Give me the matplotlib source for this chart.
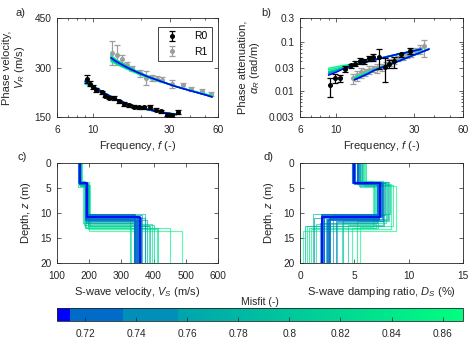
import matplotlib
matplotlib.use("Agg")
import matplotlib.pyplot as plt
from matplotlib.colors import LinearSegmentedColormap, Normalize
from matplotlib.cm import ScalarMappable
from matplotlib.ticker import NullFormatter, LogLocator

plt.rcParams['font.family'] = ['Liberation Sans', 'DejaVu Sans']
plt.rcParams['mathtext.fontset'] = 'custom'
plt.rcParams['mathtext.rm'] = 'Liberation Sans'
plt.rcParams['mathtext.it'] = 'Liberation Sans:italic'

# ---------------- experimental data ----------------
# fundamental mode (R0) phase velocity
f_v0 = [9.17, 9.6, 10.0, 10.5, 11.4, 11.9, 12.6, 13.6, 14.6, 15.6, 16.7, 18.0,
        19.3, 20.7, 22.7, 24.6, 26.7, 29.0, 31.1, 34.1]
v0 = [266, 251, 241, 233, 225, 215, 209, 207, 197, 189, 185, 181,
      179, 179, 179, 172, 167, 157, 155, 165]
v0_err = [12, 8, 7, 6, 5, 5, 5, 6, 5, 5, 5, 4, 4, 5, 6, 4, 4, 5, 4, 7]

# first higher mode (R1) phase velocity
f_v1 = [13.1, 14.1, 15.2, 16.3, 17.6, 19.8, 21.5, 23.4, 25.0, 26.8, 31.2,
        36.6, 41.0, 48.0, 54.5]
v1 = [345, 337, 327, 307, 297, 282, 268, 268, 266, 263, 251, 246, 234, 228, 219]
v1_err = [36, 30, 12, 10, 8, 10, 20, 8, 8, 8, 12, 8, 6, 6, 6]

# fundamental mode (R0) phase attenuation
f_a0 = [9.2, 9.85, 10.6, 11.4, 12.3, 13.1, 14.0, 14.9, 15.8, 16.8, 18.2,
        19.8, 21.2, 22.7, 25.0, 28.2]
a0 = [0.013, 0.0185, 0.018, 0.028, 0.033, 0.036, 0.041, 0.040, 0.046, 0.048,
      0.050, 0.031, 0.036, 0.040, 0.055, 0.066]
a0_err = [0.0055, 0.004, 0.003, 0.004, 0.003, 0.004, 0.006, 0.004, 0.005,
          0.008, 0.022, 0.016, 0.007, 0.01, 0.005, 0.009]

# first higher mode (R1) phase attenuation
f_a1 = [12.6, 13.4, 14.2, 15.0, 15.9, 16.9, 17.9, 19.0, 20.2, 21.4, 22.7,
        24.1, 25.6, 27.2, 28.9, 30.7, 32.6, 34.6]
a1 = [0.018, 0.021, 0.024, 0.024, 0.027, 0.028, 0.029, 0.031, 0.034, 0.038,
      0.042, 0.046, 0.050, 0.055, 0.060, 0.066, 0.072, 0.080]
a1_err = [0.004, 0.005, 0.006, 0.004, 0.005, 0.004, 0.006, 0.005, 0.005,
          0.006, 0.007, 0.006, 0.007, 0.008, 0.01, 0.01, 0.015, 0.03]

# ---------------- inverted profiles ----------------
misfit = [0.866, 0.861, 0.855, 0.848, 0.842, 0.836, 0.829, 0.821, 0.814,
          0.806, 0.799, 0.791, 0.783, 0.776, 0.768, 0.761, 0.755, 0.749,
          0.744, 0.739, 0.733, 0.728, 0.724, 0.720, 0.716, 0.710]
z1 = [4.6, 3.6, 4.2, 3.8, 4.4, 3.9, 4.7, 3.7, 4.1, 4.0, 3.5, 4.3, 3.9,
      4.5, 4.0, 3.8, 4.1, 3.9, 4.2, 4.0, 3.9, 4.1, 4.0, 3.9, 4.0, 3.95]
z2 = [13.5, 12.8, 13.2, 13.0, 12.5, 11.9, 12.2, 11.6, 12.9, 11.2, 12.4,
      10.2, 11.8, 12.6, 10.6, 11.4, 12.0, 10.4, 11.1, 10.9, 11.5, 10.3,
      11.0, 10.7, 11.3, 10.8]
vs1 = [175, 166, 172, 168, 177, 170, 164, 173, 169, 176, 171, 167, 174,
       170, 168, 172, 169, 171, 170, 168, 172, 170, 169, 171, 170, 170]
vs2 = [200, 186, 197, 190, 203, 182, 195, 199, 188, 193, 184, 198, 191,
       196, 187, 194, 190, 192, 189, 195, 191, 193, 190, 192, 191, 192]
vs3 = [487, 330, 410, 451, 385, 340, 395, 360, 415, 328, 400, 372, 345,
       390, 352, 380, 338, 365, 348, 372, 355, 342, 362, 350, 346, 358]
ds1 = [6.0, 4.8, 5.7, 5.2, 5.9, 4.9, 5.5, 6.1, 5.0, 5.8, 5.3, 5.6, 4.75,
       5.4, 5.1, 5.7, 5.0, 5.5, 5.2, 5.4, 5.0, 5.3, 4.9, 5.1, 5.0, 5.0]
ds2 = [8.8, 6.7, 8.4, 7.0, 8.6, 7.9, 6.9, 8.2, 7.2, 8.0, 7.6, 8.3, 6.8,
       7.7, 7.4, 8.1, 7.1, 7.8, 7.5, 7.3, 7.6, 7.4, 7.2, 7.5, 7.3, 7.4]
ds3 = [0.3, 5.5, 1.0, 4.8, 0.6, 3.9, 1.5, 5.2, 0.8, 2.7, 4.4, 1.2, 3.4,
       0.5, 2.2, 4.0, 1.8, 3.0, 2.4, 1.3, 3.3, 2.0, 2.8, 2.2, 2.6, 2.0]
z_max = 20

# ---------------- theoretical curves of selected profiles ----------------
curve_misfit = [0.866, 0.842, 0.800, 0.785, 0.770, 0.755, 0.740, 0.710]
f_c0 = [9, 10, 11, 12.5, 14, 16, 18.5, 21, 24, 28, 33]
f_c1 = [13, 14, 15.5, 17, 19, 21.5, 24.5, 28, 32, 37, 43, 50, 55]
f_c1a = [13, 14, 15.5, 17, 19, 21.5, 24.5, 28, 32, 37]
vr0_curves = [
    [250, 238, 227, 214, 203, 192, 183, 176, 170, 164, 159],
    [262, 246, 233, 217, 204, 192, 181, 174, 168, 162, 157],
    [254, 240, 229, 215, 203, 192, 182, 175, 169, 163, 158],
    [260, 245, 232, 216, 204, 191, 181, 174, 168, 163, 158],
    [256, 242, 230, 216, 204, 192, 182, 175, 169, 163, 158],
    [259, 244, 231, 216, 203, 191, 181, 174, 168, 162, 157],
    [257, 243, 231, 216, 204, 192, 182, 175, 169, 163, 158],
    [258, 243, 231, 216, 204, 192, 182, 175, 169, 163, 158],
]
vr1_curves = [
    [318, 310, 300, 291, 281, 271, 262, 253, 244, 236, 228, 220, 215],
    [336, 324, 311, 300, 288, 276, 265, 255, 245, 236, 227, 218, 212],
    [322, 313, 302, 293, 283, 272, 263, 253, 244, 235, 227, 219, 213],
    [332, 321, 309, 298, 287, 275, 265, 254, 245, 235, 226, 217, 211],
    [326, 316, 305, 295, 285, 274, 264, 254, 244, 235, 226, 218, 212],
    [330, 319, 307, 297, 286, 275, 264, 254, 244, 235, 226, 217, 211],
    [328, 318, 306, 296, 285, 274, 264, 254, 244, 235, 226, 217, 211],
    [329, 318, 306, 296, 285, 274, 264, 254, 244, 235, 226, 217, 211],
]
ar0_curves = [
    [0.029, 0.031, 0.033, 0.035, 0.038, 0.042, 0.046, 0.050, 0.055, 0.061, 0.068],
    [0.027, 0.029, 0.031, 0.034, 0.037, 0.041, 0.046, 0.050, 0.055, 0.061, 0.068],
    [0.025, 0.027, 0.030, 0.033, 0.037, 0.041, 0.046, 0.050, 0.055, 0.061, 0.069],
    [0.024, 0.026, 0.029, 0.033, 0.036, 0.041, 0.046, 0.051, 0.056, 0.062, 0.070],
    [0.023, 0.026, 0.029, 0.032, 0.036, 0.041, 0.046, 0.051, 0.056, 0.062, 0.070],
    [0.022, 0.025, 0.028, 0.032, 0.036, 0.041, 0.046, 0.051, 0.056, 0.062, 0.070],
    [0.022, 0.025, 0.028, 0.032, 0.036, 0.040, 0.045, 0.050, 0.056, 0.062, 0.070],
    [0.021, 0.024, 0.028, 0.032, 0.036, 0.040, 0.045, 0.050, 0.056, 0.062, 0.070],
]
ar1_curves = [
    [0.019, 0.021, 0.024, 0.027, 0.031, 0.036, 0.042, 0.050, 0.059, 0.071],
    [0.018, 0.020, 0.023, 0.026, 0.030, 0.035, 0.041, 0.049, 0.058, 0.071],
    [0.017, 0.019, 0.022, 0.026, 0.030, 0.035, 0.041, 0.049, 0.058, 0.070],
    [0.018, 0.020, 0.023, 0.027, 0.031, 0.036, 0.042, 0.050, 0.059, 0.072],
    [0.017, 0.019, 0.022, 0.026, 0.030, 0.035, 0.041, 0.049, 0.058, 0.070],
    [0.017, 0.019, 0.022, 0.026, 0.030, 0.035, 0.041, 0.049, 0.058, 0.070],
    [0.017, 0.019, 0.022, 0.026, 0.030, 0.035, 0.041, 0.049, 0.058, 0.070],
    [0.017, 0.019, 0.022, 0.026, 0.030, 0.035, 0.041, 0.049, 0.058, 0.070],
]

cb_ticks = [0.72, 0.74, 0.76, 0.78, 0.80, 0.82, 0.84, 0.86]
cb_labels = ['0.72', '0.74', '0.76', '0.78', '0.8', '0.82', '0.84', '0.86']

# ---------------- colour map (banded winter) ----------------
m_lo, m_hi = 0.709, 0.868
def _p(m):
    return (m - m_lo) / (m_hi - m_lo)
w = lambda t: (0.0, t, 1 - 0.5 * t)
cmap = LinearSegmentedColormap.from_list('misfit', [
    (0.0, w(0.0)), (_p(0.7141), w(0.0)),
    (_p(0.7142), w(0.42)), (_p(0.7346), w(0.42)),
    (_p(0.7347), w(0.56)), (_p(0.7561), w(0.56)),
    (_p(0.7562), w(0.64)), (1.0, w(1.0)),
], N=512)
norm = Normalize(m_lo, m_hi)

W, H = 474, 343
fig = plt.figure(figsize=(W / 100, H / 100), dpi=100)

def px_axes(x0, y0, x1, y1):
    return fig.add_axes([x0 / W, 1 - y1 / H, (x1 - x0) / W, (y1 - y0) / H])

ax_a = px_axes(57, 18, 218, 117)
ax_b = px_axes(300, 18, 463, 117)
ax_c = px_axes(57, 163, 218, 263)
ax_d = px_axes(300, 163, 463, 263)
cax = px_axes(57, 308, 463, 321)

INK = '0.15'
TS = 7.3
LS = 8

def style(ax):
    for s in ax.spines.values():
        s.set_color(INK)
        s.set_linewidth(0.6)
    ax.tick_params(which='both', direction='in', top=True, right=True,
                   colors=INK, labelsize=TS, width=0.5)
    ax.tick_params(which='major', length=2.8)
    ax.tick_params(which='minor', length=1.6)
    ax.tick_params(axis='x', pad=5.5)
    ax.tick_params(axis='y', pad=4)

order = sorted(range(len(curve_misfit)), key=lambda i: -curve_misfit[i])

# ---- a) phase velocity ----
ax = ax_a
for i in order:
    c = cmap(norm(curve_misfit[i]))
    ax.plot(f_c0, vr0_curves[i], color=c, lw=1.0, zorder=2)
    ax.plot(f_c1, vr1_curves[i], color=c, lw=1.0, zorder=2)
eb_kw = dict(fmt='o', ms=2.6, capsize=2.4, elinewidth=0.9, capthick=0.9)
h0 = ax.errorbar(f_v0, v0, yerr=v0_err, color='black', zorder=3, **eb_kw)
h1 = ax.errorbar(f_v1, v1, yerr=v1_err, color='0.62', zorder=1, **eb_kw)
ax.set_xscale('log')
ax.set_xlim(6, 60)
ax.set_ylim(150, 450)
ax.set_xticks([6, 10, 30, 60], ['6', '10', '30', '60'])
ax.xaxis.set_minor_formatter(NullFormatter())
ax.set_yticks([150, 300, 450])
ax.set_xlabel('Frequency, $f$ (-)', fontsize=LS, color=INK, labelpad=3)
ax.set_ylabel('Phase velocity,\n$V_R$ (m/s)', fontsize=LS, color=INK,
              labelpad=5, linespacing=1.1)
style(ax)
leg = ax.legend([h0, h1], ['R0', 'R1'], loc='upper right',
                bbox_to_anchor=(0.961, 0.912), borderaxespad=0,
                fontsize=7.5, fancybox=False, framealpha=1,
                edgecolor=INK, handlelength=1.8, handletextpad=1.2,
                borderpad=0.45, labelspacing=0.5)
leg.get_frame().set_linewidth(0.6)

# ---- b) phase attenuation ----
ax = ax_b
ax.errorbar(f_a1, a1, yerr=a1_err, color='0.62', zorder=1, **eb_kw)
for i in order:
    c = cmap(norm(curve_misfit[i]))
    ax.plot(f_c0, ar0_curves[i], color=c, lw=1.0, zorder=2)
    ax.plot(f_c1a, ar1_curves[i], color=c, lw=1.0, zorder=2)
ax.errorbar(f_a0, a0, yerr=a0_err, color='black', zorder=3, **eb_kw)
ax.set_xscale('log')
ax.set_yscale('log')
ax.set_xlim(6, 60)
ax.set_ylim(0.003, 0.3)
ax.set_xticks([6, 10, 30, 60], ['6', '10', '30', '60'])
ax.xaxis.set_minor_formatter(NullFormatter())
ax.set_yticks([0.003, 0.01, 0.03, 0.1, 0.3], ['0.003', '0.01', '0.03', '0.1', '0.3'])
ax.yaxis.set_minor_locator(LogLocator(subs=range(2, 10)))
ax.yaxis.set_minor_formatter(NullFormatter())
ax.set_xlabel('Frequency, $f$ (-)', fontsize=LS, color=INK, labelpad=3)
ax.set_ylabel('Phase attenuation,\n$\\alpha_R$ (rad/m)', fontsize=LS, color=INK,
              labelpad=5, linespacing=1.1)
style(ax)

# ---- c) and d) profiles ----
prof_order = sorted(range(len(misfit)), key=lambda i: -misfit[i])
for i in prof_order:
    c = cmap(norm(misfit[i]))
    zz = [0, z1[i], z1[i], z2[i], z2[i], z_max]
    best = misfit[i] < 0.73
    lw = 1.3 if best else 0.8
    al = 0.95 if best else 0.65
    ax_c.plot([vs1[i], vs1[i], vs2[i], vs2[i], vs3[i], vs3[i]], zz,
              color=c, lw=lw, alpha=al)
    ax_d.plot([ds1[i], ds1[i], ds2[i], ds2[i], ds3[i], ds3[i]], zz,
              color=c, lw=lw, alpha=al)

ax_c.set_xlim(100, 600)
ax_c.set_xticks([100, 200, 300, 400, 500, 600])
ax_c.set_xlabel('S-wave velocity, $V_S$ (m/s)', fontsize=LS, color=INK, labelpad=3)
ax_d.set_xlim(0, 15)
ax_d.set_xticks([0, 5, 10, 15])
ax_d.set_xlabel('S-wave damping ratio, $D_S$ (%)', fontsize=LS, color=INK, labelpad=3)
for ax in (ax_c, ax_d):
    ax.set_ylim(20, 0)
    ax.set_yticks([0, 5, 10, 15, 20])
    ax.set_ylabel('Depth, $z$ (m)', fontsize=LS, color=INK, labelpad=5)
    style(ax)

# ---- colour bar ----
cb = fig.colorbar(ScalarMappable(norm=norm, cmap=cmap), cax=cax,
                  orientation='horizontal')
cb.set_ticks(cb_ticks, labels=cb_labels)
cb.outline.set_edgecolor(INK)
cb.outline.set_linewidth(0.6)
cax.tick_params(direction='in', length=2.8, width=0.5, colors=INK,
                labelsize=TS, pad=6)
cax.set_title('Misfit (-)', fontsize=7.5, color=INK, pad=2.5)

# ---- panel letters ----
for txt, (x, y) in {'a)': (21, 13), 'b)': (266, 13),
                    'c)': (22, 157), 'd)': (268, 157)}.items():
    fig.text(x / W, 1 - y / H, txt, fontsize=LS, color=INK,
             ha='center', va='center')

fig.savefig('out.png', dpi=100)
